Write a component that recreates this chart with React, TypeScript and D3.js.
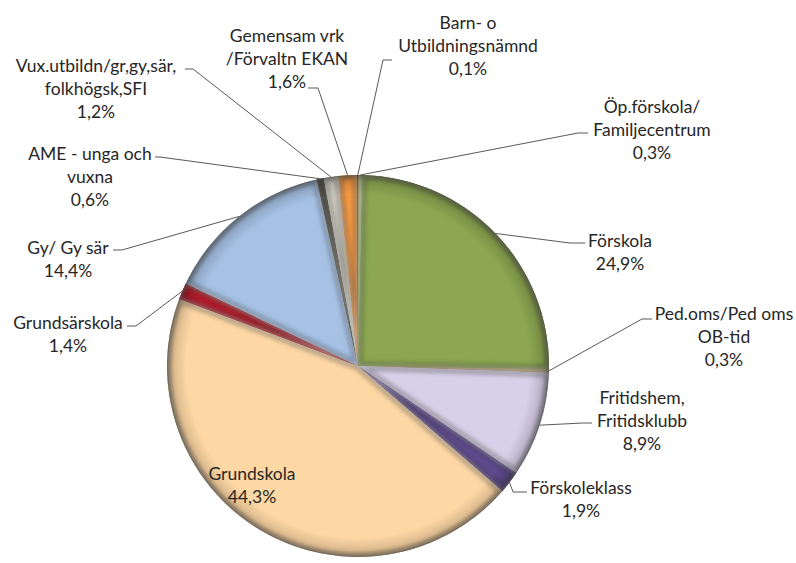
import React from "react";
import * as d3 from "d3";

const categories = [
  "Förskola",
  "Ped.oms/Ped oms OB-tid",
  "Fritidshem, Fritidsklubb",
  "Förskoleklass",
  "Grundskola",
  "Grundsärskola",
  "Gy/ Gy sär",
  "AME - unga och vuxna",
  "Vux.utbildn/gr,gy,sär, folkhögsk,SFI",
  "Gemensam vrk /Förvaltn EKAN",
  "Barn- o Utbildningsnämnd",
  "Öp.förskola/ Familjecentrum",
];
const labelLines = [
  ["Förskola"],
  ["Ped.oms/Ped oms", "OB-tid"],
  ["Fritidshem,", "Fritidsklubb"],
  ["Förskoleklass"],
  ["Grundskola"],
  ["Grundsärskola"],
  ["Gy/ Gy sär"],
  ["AME - unga och", "vuxna"],
  ["Vux.utbildn/gr,gy,sär,", "folkhögsk,SFI"],
  ["Gemensam vrk", "/Förvaltn EKAN"],
  ["Barn- o", "Utbildningsnämnd"],
  ["Öp.förskola/", "Familjecentrum"],
];
const values = [24.9, 0.3, 8.9, 1.9, 44.3, 1.4, 14.4, 0.6, 1.2, 1.6, 0.1, 0.3];
const colors = [
  "#8ca651", "#a08a50", "#d8d0e8", "#5e4b8c", "#fdd7a4", "#b81c2e",
  "#a6c1e4", "#3b3a2a", "#d9d7c9", "#f39a43", "#8e1b1f", "#9db85e",
];

// layout: label text centre x, first line centre y; leader: label point, elbow point
const labelPos: [number, number][] = [
  [620, 240], [724, 313], [642, 397], [581, 487], [252, 473], [68, 322],
  [68, 247], [90, 153], [96, 65], [287, 35], [468, 22], [652, 106],
];
const leaders: ([number, number, number, number] | null)[] = [
  [585, 243, 570, 243],
  [652, 319, 642, 319],
  [592, 423, 583, 423],
  [527, 492, 513, 492],
  null,
  [127, 326, 136, 326],
  [113, 250, 122, 250],
  [155, 157, 160, 157],
  [185, 69, 193, 69],
  [308, 88, 318, 88],
  [392, 60, 383, 60],
  [588, 133, 578, 133],
];

const W = 796, H = 563;
const cx = 358, cy = 366, R = 191;
const rot = (1.2 * Math.PI) / 180;
const LH = 23;
const FONT = "Lato, 'Open Sans', sans-serif";

export default function App() {
  const pie = d3
    .pie<number>()
    .sort(null)
    .value((d) => d)
    .startAngle(rot)
    .endAngle(rot + 2 * Math.PI);
  const arcs = pie(values);
  const arc = d3.arc<d3.PieArcDatum<number>>().innerRadius(0).outerRadius(R);
  const fmt = (v: number) => v.toFixed(1).replace(".", ",") + "%";

  return (
    <svg width={W} height={H} style={{ position: "absolute", left: 0, top: 0 }}>
      <defs>
        <filter id="soft" x="-10%" y="-10%" width="120%" height="120%">
          <feGaussianBlur stdDeviation="2" />
        </filter>
        <radialGradient id="rim" cx="0.5" cy="0.5" r="0.5">
          <stop offset="0.9" stopColor="#000" stopOpacity="0" />
          <stop offset="0.97" stopColor="#000" stopOpacity="0.14" />
          <stop offset="1" stopColor="#000" stopOpacity="0.35" />
        </radialGradient>
        {arcs.map((a, i) => (
          <clipPath id={"clip" + i} key={i}>
            <path d={arc(a) || ""} transform={`translate(${cx},${cy})`} />
          </clipPath>
        ))}
      </defs>
      <g transform={`translate(${cx},${cy})`}>
        {arcs.map((a, i) => (
          <path key={"f" + i} d={arc(a) || ""} fill={colors[i]} />
        ))}
      </g>
      {arcs.map((a, i) => (
        <g key={"s" + i} clipPath={`url(#clip${i})`}>
          <path
            d={arc(a) || ""}
            transform={`translate(${cx},${cy})`}
            fill="none"
            stroke={d3.color(colors[i])!.darker(1.1).formatHex()}
            strokeWidth={8}
            strokeLinejoin="round"
            filter="url(#soft)"
          />
          <path
            d={arc(a) || ""}
            transform={`translate(${cx},${cy})`}
            fill="none"
            stroke="#fff"
            strokeOpacity={0.45}
            strokeWidth={3}
            filter="url(#soft)"
          />
        </g>
      ))}
      <circle cx={cx} cy={cy} r={R} fill="url(#rim)" />
      <circle cx={cx} cy={cy} r={R - 0.5} fill="none" stroke="#555" strokeOpacity={0.35} strokeWidth={1} />
      {arcs.map((a, i) => {
        const l = leaders[i];
        if (!l) return null;
        const mid = (a.startAngle + a.endAngle) / 2;
        const ex = cx + R * Math.sin(mid);
        const ey = cy - R * Math.cos(mid);
        return (
          <polyline
            key={"l" + i}
            points={`${ex},${ey} ${l[2]},${l[3]} ${l[0]},${l[1]}`}
            fill="none"
            stroke="#595959"
            strokeWidth={1}
          />
        );
      })}
      {arcs.map((a, i) => {
        const [x, y] = labelPos[i];
        const lines = [...labelLines[i], fmt(values[i])];
        return (
          <text
            key={"t" + i}
            x={x}
            textAnchor="middle"
            fontFamily={FONT}
            fontSize={17.5}
            fill="#262626"
          >
            {lines.map((ln, j) => (
              <tspan key={j} x={x} y={y + j * LH} dominantBaseline="central">
                {ln}
              </tspan>
            ))}
          </text>
        );
      })}
    </svg>
  );
}
